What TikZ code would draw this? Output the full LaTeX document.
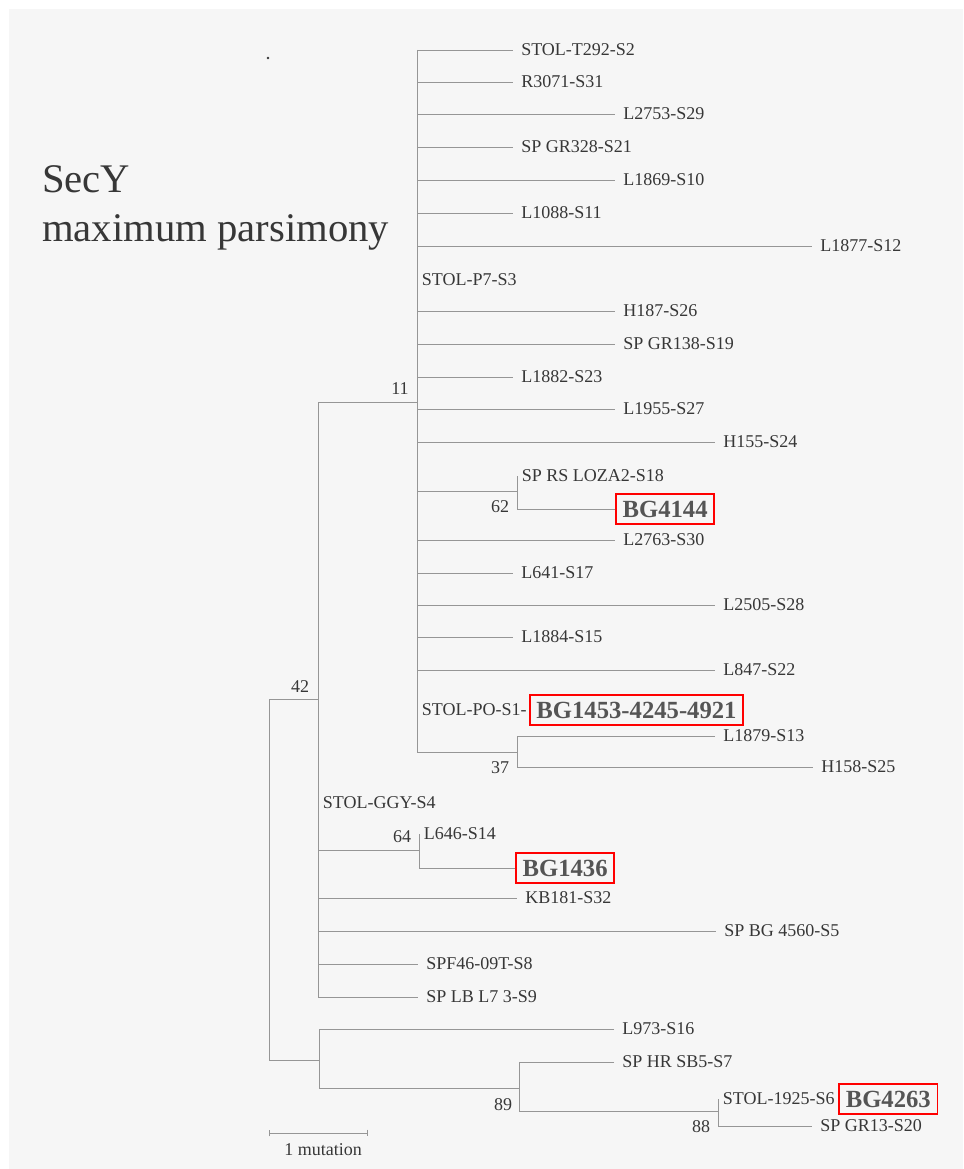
\documentclass[tikz,border=0pt]{standalone}
\usepackage{fontspec}
\setmainfont{Liberation Serif}
\usepackage{xcolor}
\definecolor{treegray}{RGB}{150,150,150}
\definecolor{inkgray}{RGB}{55,55,55}
\definecolor{scanbg}{RGB}{246,246,246}
\usetikzlibrary{
    arrows.meta,
    positioning
}

\begin{document}
\begin{tikzpicture}[x=0.75pt, y=-0.75pt,
    branch/.style={draw=treegray, line width=0.7pt},
    leaf/.style={anchor=west, inner xsep=6pt, inner ysep=1pt, text=inkgray,
                 font=\fontsize{13.5}{16}\selectfont},
    tip/.style={leaf, inner xsep=3.5pt},
    boot/.style={inner sep=0pt, text=inkgray, font=\fontsize{13.5}{16}\selectfont},
    hilite/.style={draw=red, line width=1.4pt, anchor=west, text=inkgray!85,
                   inner xsep=5pt, inner ysep=5pt, text height=13pt, text depth=0pt,
                   font=\fontsize{18.5}{20}\selectfont\bfseries},
    title/.style={anchor=base west, inner sep=0pt, text=inkgray,
                  font=\fontsize{30.5}{36}\selectfont}]

    % scanned page
    \useasboundingbox (0,0) rectangle (963,1169);
    \fill[scanbg] (9,9) rectangle (963,1169);
    \fill[inkgray] (268,58) circle (1pt);

    % title
    \node[title] (sec) at (42,193) {SecY};
    \node[title] (mp) at (42,242) {maximum parsimony};

    % clade 11
    \coordinate (n11) at (417,402);
    \node[leaf] (t292) at (513,50) {STOL-T292-S2};
    \node[leaf] (r3071) at (513,82) {R3071-S31};
    \node[leaf] (l2753) at (615,114) {L2753-S29};
    \node[leaf] (gr328) at (513,147) {SP GR328-S21};
    \node[leaf] (l1869) at (615,180) {L1869-S10};
    \node[leaf] (l1088) at (513,213) {L1088-S11};
    \node[leaf] (l1877) at (812,246) {L1877-S12};
    \node[tip] (p7) at (417,280) {STOL-P7-S3};
    \node[leaf] (h187) at (615,311) {H187-S26};
    \node[leaf] (gr138) at (615,344) {SP GR138-S19};
    \node[leaf] (l1882) at (513,377) {L1882-S23};
    \node[leaf] (l1955) at (615,409) {L1955-S27};
    \node[leaf] (h155) at (715,442) {H155-S24};
    \coordinate (n62) at (517,491);
    \node[tip] (loza) at (517,476) {SP RS LOZA2-S18};
    \node[hilite] (bg4144) at (615,509) {BG4144};
    \node[leaf] (l2763) at (615,540) {L2763-S30};
    \node[leaf] (l641) at (513,573) {L641-S17};
    \node[leaf] (l2505) at (715,605) {L2505-S28};
    \node[leaf] (l1884) at (513,637) {L1884-S15};
    \node[leaf] (l847) at (715,670) {L847-S22};
    \node[tip] (po) at (417,710) {STOL-PO-S1-};
    \node[hilite, right=-2pt of po] (bg1453) {BG1453-4245-4921};
    \coordinate (n37) at (517,752);
    \node[leaf] (l1879) at (715,736) {L1879-S13};
    \node[leaf] (h158) at (813,767) {H158-S25};

    \foreach \t in {t292,r3071,l2753,gr328,l1869,l1088,l1877,h187,gr138,
                    l1882,l1955,h155,l2763,l641,l2505,l1884,l847}
        \draw[branch] (n11 |- \t.west) -- (\t.west);
    \draw[branch] (n11 |- t292.west) -- (n11 |- n37) -- (n37);
    \draw[branch] (n11 |- n62) -- (n62);
    \draw[branch] (n62 |- loza.west) -- (n62 |- bg4144.west) -- (bg4144.west);
    \draw[branch] (l1879.west) -- (n37 |- l1879.west) -- (n37 |- h158.west) -- (h158.west);

    % clade 42
    \coordinate (n42) at (318,699);
    \node[tip] (ggy) at (318,803) {STOL-GGY-S4};
    \coordinate (n64) at (419,850);
    \node[tip] (l646) at (419,834) {L646-S14};
    \node[hilite] (bg1436) at (515,868) {BG1436};
    \node[leaf] (kb181) at (517,898) {KB181-S32};
    \node[leaf] (bg4560) at (716,931) {SP BG 4560-S5};
    \node[leaf] (spf46) at (418,964) {SPF46-09T-S8};
    \node[leaf] (lbl7) at (418,997) {SP LB L7 3-S9};

    \draw[branch] (n11) -- (n42 |- n11) -- (n42 |- lbl7.west) -- (lbl7.west);
    \foreach \t in {kb181,bg4560,spf46}
        \draw[branch] (n42 |- \t.west) -- (\t.west);
    \draw[branch] (n42 |- n64) -- (n64);
    \draw[branch] (n64 |- l646.west) -- (n64 |- bg1436.west) -- (bg1436.west);

    % root and lower clade
    \coordinate (root) at (269,1060);
    \coordinate (nlow) at (319,1060);
    \coordinate (n89) at (519,1088);
    \coordinate (n88) at (718,1111);
    \node[leaf] (l973) at (614,1029) {L973-S16};
    \node[leaf] (hrsb5) at (614,1062) {SP HR SB5-S7};
    \node[tip] (st1925) at (718,1099) {STOL-1925-S6};
    \node[hilite, right=-1pt of st1925] (bg4263) {BG4263};
    \node[leaf] (gr13) at (812,1126) {SP GR13-S20};

    \draw[branch] (n42) -- (root |- n42) -- (root) -- (nlow);
    \draw[branch] (l973.west) -- (nlow |- l973.west) -- (nlow |- n89) -- (n89);
    \draw[branch] (hrsb5.west) -- (n89 |- hrsb5.west) -- (n89 |- n88) -- (n88);
    \draw[branch] (n88 |- st1925.west) -- (n88 |- gr13.west) -- (gr13.west);

    % support values
    \node[boot] (b11) at (400,389) {11};
    \node[boot] (b62) at (500,507) {62};
    \node[boot] (b37) at (500,768) {37};
    \node[boot] (b42) at (300,687) {42};
    \node[boot] (b64) at (402,837) {64};
    \node[boot] (b89) at (503,1105) {89};
    \node[boot] (b88) at (701,1127) {88};

    % scale bar
    \coordinate (bar0) at (269,1133);
    \coordinate (bar1) at (368,1133);
    \draw[branch, {Bar[width=5pt]}-{Bar[width=5pt]}] (bar0) -- (bar1);
    \node[boot] (unit) at (323,1150) {1 mutation};
\end{tikzpicture}
\end{document}
